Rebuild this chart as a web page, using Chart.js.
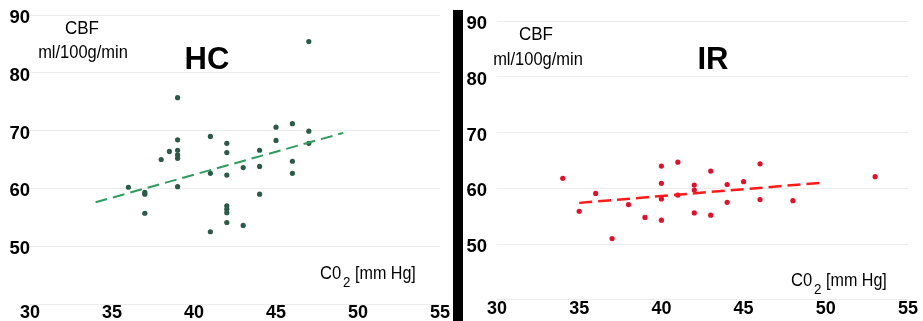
<!DOCTYPE html>
<html>
<head>
<meta charset="utf-8">
<script src="https://cdn.jsdelivr.net/npm/chart.js@4/dist/chart.umd.min.js"></script>
<style>
  body { margin: 0; background: #fff; }
  #wrap { position: relative; width: 923px; height: 321px; overflow: hidden; }
  canvas { position: absolute; top: 0; }
  #hc { left: 0; }
  #ir { left: 463px; }
  .divider { position: absolute; left: 453px; top: 10px; width: 10px; height: 311px; background: #000; }
</style>
</head>
<body>
<div id="wrap">
  <canvas id="hc" width="453" height="321"></canvas>
  <div class="divider"></div>
  <canvas id="ir" width="460" height="321"></canvas>
</div>
<script>
// HC group (CO2 mm Hg vs CBF ml/100g/min)
const hcCo2 = [36, 37, 37, 37, 38, 38.5, 39, 39, 39, 39, 39, 39, 41, 41, 41, 42, 42, 42, 42, 42, 42, 42, 43, 43, 44, 44, 44, 45, 45, 46, 46, 46, 47, 47, 47];
const hcCbf = [60.2, 59.3, 59.0, 55.7, 65.0, 66.4, 75.7, 68.4, 66.6, 65.8, 65.2, 60.3, 69.0, 62.6, 52.5, 67.8, 66.2, 62.3, 57.0, 56.4, 55.8, 54.1, 63.6, 53.6, 66.6, 63.8, 59.0, 70.6, 68.3, 71.2, 64.7, 62.6, 85.4, 69.9, 67.8];
const hcFitCo2 = [34, 49.1];
const hcFitCbf = [57.6, 69.6];

// IR group
const irCo2 = [34, 35, 36, 37, 38, 39, 40, 40, 40, 40, 41, 41, 42, 42, 42, 43, 43, 44, 44, 45, 46, 46, 48, 53];
const irCbf = [61.8, 55.9, 59.1, 51.0, 57.1, 54.8, 64.0, 60.9, 58.1, 54.3, 64.7, 58.8, 60.6, 59.7, 55.6, 63.1, 55.2, 60.7, 57.5, 61.2, 64.4, 58.0, 57.8, 62.1];
const irFitCo2 = [35, 49.7];
const irFitCbf = [57.4, 61.0];

const xMin = 30, xMax = 55, xStep = 5;
const yMin = 40, yMax = 90, yStep = 10;

const FONT = "'Liberation Sans', Arial, sans-serif";

function pts(xs, ys) {
  return xs.map((x, i) => ({ x: x, y: ys[i] }));
}

function txt(ctx, s, x, y, font, align, sx) {
  ctx.save();
  ctx.font = font;
  ctx.fillStyle = '#000';
  ctx.textBaseline = 'alphabetic';
  ctx.translate(x, y);
  ctx.scale(sx, 1);
  ctx.textAlign = align;
  ctx.fillText(s, 0, 0);
  ctx.restore();
}

function labelsPlugin(o) {
  return {
    id: 'labels',
    afterDraw(chart) {
      const ctx = chart.ctx;
      txt(ctx, 'CBF', o.cbfX, o.cbfY, '18.5px ' + FONT, 'center', 0.92);
      txt(ctx, 'ml/100g/min', o.unitX, o.unitY, '18.5px ' + FONT, 'center', 0.89);
      txt(ctx, o.title, o.titleX, o.titleY, 'bold 31px ' + FONT, 'center', 1);
      // C0₂ [mm Hg]
      txt(ctx, 'C0', o.co2X, o.co2Y, '17.5px ' + FONT, 'left', 0.95);
      txt(ctx, '2', o.co2X + 23, o.co2Y + 8, '14px ' + FONT, 'left', 0.95);
      txt(ctx, '[mm Hg]', o.co2X + 35, o.co2Y, '17.5px ' + FONT, 'left', 0.92);
    }
  };
}

function makeChart(id, xs, ys, fx, fy, pointColor, lineColor, dash, lw, yPad, leftW, rightPad, lab) {
  return new Chart(document.getElementById(id), {
    type: 'scatter',
    data: {
      datasets: [
        {
          type: 'line',
          data: pts(fx, fy),
          borderColor: lineColor,
          borderWidth: lw,
          borderDash: dash,
          pointRadius: 0,
          fill: false
        },
        {
          data: pts(xs, ys),
          backgroundColor: pointColor,
          borderColor: pointColor,
          pointRadius: 2.6,
          pointBorderWidth: 0
        }
      ]
    },
    options: {
      responsive: false,
      animation: false,
      devicePixelRatio: 1,
      layout: { padding: { top: 15, right: rightPad, left: 0, bottom: 0 } },
      plugins: { legend: { display: false }, tooltip: { enabled: false } },
      scales: {
        x: {
          type: 'linear',
          min: xMin, max: xMax,
          grid: { display: false, drawTicks: false },
          border: { display: false },
          afterFit(s) { s.height = 17; },
          ticks: {
            stepSize: xStep,
            padding: 0,
            color: '#000',
            font: { family: FONT, size: 18, weight: 'bold', lineHeight: 1 }
          }
        },
        y: {
          min: yMin, max: yMax,
          grid: { color: '#ececec', drawTicks: false, lineWidth: 1 },
          border: { display: false },
          afterFit(s) { s.width = leftW; },
          ticks: {
            stepSize: yStep,
            padding: yPad,
            labelOffset: 3,
            color: '#000',
            font: { family: FONT, size: 18.5, weight: 'bold' },
            callback: v => (v === yMin ? '' : v)
          }
        }
      }
    },
    plugins: [labelsPlugin(lab)]
  });
}

makeChart('hc', hcCo2, hcCbf, hcFitCo2, hcFitCbf, '#2b5b46', '#2f9b5c', [12, 6], 2, 0, 30, 13,
  { title: 'HC', titleX: 207, titleY: 69, cbfX: 82, cbfY: 34, unitX: 83, unitY: 58, co2X: 320, co2Y: 279 });

makeChart('ir', irCo2, irCbf, irFitCo2, irFitCbf, '#e0112b', '#ff1a1a', [13, 6], 2.5, 10, 34, 15,
  { title: 'IR', titleX: 250, titleY: 69, cbfX: 73, cbfY: 40, unitX: 75, unitY: 65, co2X: 328, co2Y: 286 });
</script>
</body>
</html>
